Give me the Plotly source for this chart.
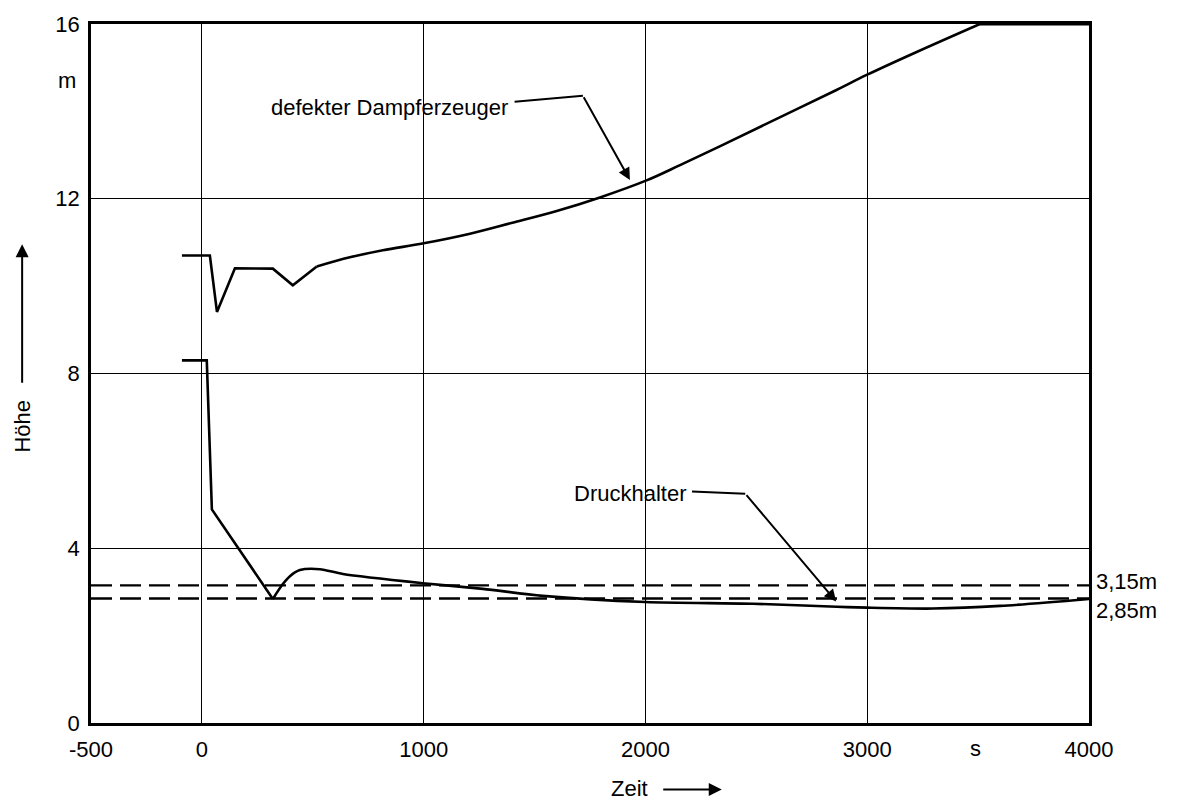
import plotly.graph_objects as go

# ---- data ----
t_dampferzeuger = [-90, 36, 68, 149, 320, 410, 518, 667, 816, 1000, 1209, 1400, 1600,
                   1795, 2005, 2156, 2335, 2547, 2845, 3000, 3223, 3508, 4000]
h_dampferzeuger = [10.7, 10.7, 9.41, 10.41, 10.4, 10.02, 10.45, 10.66, 10.82, 10.98,
                   11.2, 11.45, 11.72, 12.03, 12.42, 12.77, 13.2, 13.72, 14.45, 14.84,
                   15.36, 16.0, 16.0]

t_druckhalter = [-90, 22, 45, 320, 365, 397, 442, 532, 636, 996, 1267, 1537,
                 2000, 2484, 2863, 3000, 3296, 3600, 4000]
h_druckhalter = [8.3, 8.3, 4.89, 2.84, 3.18, 3.36, 3.5, 3.52, 3.41, 3.2, 3.07, 2.91,
                 2.77, 2.73, 2.66, 2.64, 2.62, 2.68, 2.84]

grenzwerte = [3.15, 2.85]
grenz_labels = ["3,15m", "2,85m"]

x_ticks = [-500, 0, 1000, 2000, 3000, 4000]
x_ticktext = ["-500", "0", "1000", "2000", "3000", "4000"]
y_ticks = [0, 4, 8, 12, 16]
y_ticktext = ["0", "4", "8", "12", "16"]

FONT = "Liberation Sans, Arial, sans-serif"
LW = 2.6

fig = go.Figure()

# steam generator: sharp transient part (linear), then smooth rise (spline)
k1 = t_dampferzeuger.index(518)
fig.add_trace(go.Scatter(x=t_dampferzeuger[:k1 + 1], y=h_dampferzeuger[:k1 + 1],
                         mode="lines", line=dict(color="black", width=LW),
                         showlegend=False, hoverinfo="skip"))
k2 = t_dampferzeuger.index(3508)
fig.add_trace(go.Scatter(x=t_dampferzeuger[k1:k2 + 1], y=h_dampferzeuger[k1:k2 + 1],
                         mode="lines", line=dict(color="black", width=LW, shape="spline",
                                                 smoothing=1.0),
                         showlegend=False, hoverinfo="skip"))
fig.add_trace(go.Scatter(x=t_dampferzeuger[k2:], y=h_dampferzeuger[k2:],
                         mode="lines", line=dict(color="black", width=LW + 0.6),
                         showlegend=False, hoverinfo="skip"))

# pressurizer: linear until the dip, spline afterwards
d1 = t_druckhalter.index(320)
fig.add_trace(go.Scatter(x=t_druckhalter[:d1 + 1], y=h_druckhalter[:d1 + 1],
                         mode="lines", line=dict(color="black", width=LW),
                         showlegend=False, hoverinfo="skip"))
fig.add_trace(go.Scatter(x=t_druckhalter[d1:], y=h_druckhalter[d1:],
                         mode="lines", line=dict(color="black", width=LW, shape="spline",
                                                 smoothing=0.8),
                         showlegend=False, hoverinfo="skip"))

for v in grenzwerte:
    fig.add_trace(go.Scatter(x=[-500, 4000], y=[v, v], mode="lines",
                             line=dict(color="black", width=2.4, dash="21px,8px"),
                             showlegend=False, hoverinfo="skip"))

# right-hand labels for the dashed limits
fig.add_annotation(x=1.005, xref="paper", y=grenzwerte[0], yref="y", text=grenz_labels[0],
                   showarrow=False, xanchor="left", yanchor="middle", yshift=4,
                   font=dict(size=22, color="black", family=FONT))
fig.add_annotation(x=1.005, xref="paper", y=grenzwerte[1], yref="y", text=grenz_labels[1],
                   showarrow=False, xanchor="left", yanchor="middle", yshift=-12,
                   font=dict(size=22, color="black", family=FONT))

# curve labels with leader lines
fig.add_annotation(x=1390, y=14.1, xref="x", yref="y", text="defekter Dampferzeuger",
                   showarrow=False, xanchor="right", yanchor="middle",
                   font=dict(size=22, color="black", family=FONT))
fig.add_shape(type="line", x0=1410, y0=14.22, x1=1718, y1=14.36,
              line=dict(color="black", width=2))
fig.add_annotation(x=1930, y=12.43, ax=1718, ay=14.36, xref="x", yref="y",
                   axref="x", ayref="y", text="", showarrow=True, arrowhead=2,
                   arrowsize=1.2, arrowwidth=2, arrowcolor="black")

fig.add_annotation(x=2190, y=5.25, xref="x", yref="y", text="Druckhalter",
                   showarrow=False, xanchor="right", yanchor="middle",
                   font=dict(size=22, color="black", family=FONT))
fig.add_shape(type="line", x0=2210, y0=5.3, x1=2450, y1=5.25,
              line=dict(color="black", width=2))
fig.add_annotation(x=2860, y=2.78, ax=2450, ay=5.25, xref="x", yref="y",
                   axref="x", ayref="y", text="", showarrow=True, arrowhead=2,
                   arrowsize=1.2, arrowwidth=2, arrowcolor="black")

# unit labels
fig.add_annotation(x=-0.024, xref="paper", y=14.7, yref="y", text="m", showarrow=False,
                   xanchor="center", yanchor="middle",
                   font=dict(size=22, color="black", family=FONT))
fig.add_annotation(x=3490, xref="x", y=-0.036, yref="paper", text="s", showarrow=False,
                   xanchor="center", yanchor="middle",
                   font=dict(size=22, color="black", family=FONT))

# axis titles with arrows
fig.add_annotation(x=0.560, xref="paper", y=-0.093, yref="paper", text="Zeit",
                   showarrow=False, xanchor="right", yanchor="middle",
                   font=dict(size=22, color="black", family=FONT))
fig.add_annotation(x=0.632, xref="paper", y=-0.095, yref="paper", text="",
                   ax=-60, ay=0, showarrow=True, arrowhead=2, arrowsize=1.3,
                   arrowwidth=2, arrowcolor="black")
fig.add_annotation(x=-0.069, xref="paper", y=0.465, yref="paper", text="Höhe",
                   showarrow=False, textangle=-90, xanchor="center", yanchor="top",
                   font=dict(size=22, color="black", family=FONT))
fig.add_annotation(x=-0.069, xref="paper", y=0.685, yref="paper", text="",
                   ax=0, ay=140, showarrow=True, arrowhead=2, arrowsize=1.3,
                   arrowwidth=2, arrowcolor="black")

fig.update_layout(
    width=1184, height=805,
    margin=dict(l=91, r=95, t=19, b=82),
    paper_bgcolor="white", plot_bgcolor="white",
    font=dict(family=FONT, color="black", size=22),
    xaxis=dict(range=[-500, 4000], tickvals=x_ticks, ticktext=x_ticktext,
               showgrid=True, gridcolor="black", gridwidth=1.3, zeroline=False,
               showline=True, linecolor="black", linewidth=2.5, mirror=True,
               ticks="", ticklabelstandoff=5,
               tickfont=dict(size=22, color="black", family=FONT)),
    yaxis=dict(range=[0, 16], tickvals=y_ticks, ticktext=y_ticktext,
               showgrid=True, gridcolor="black", gridwidth=1.3, zeroline=False,
               showline=True, linecolor="black", linewidth=2.5, mirror=True,
               ticks="", ticklabelstandoff=4,
               tickfont=dict(size=22, color="black", family=FONT)),
)

fig.write_html("out.html")
